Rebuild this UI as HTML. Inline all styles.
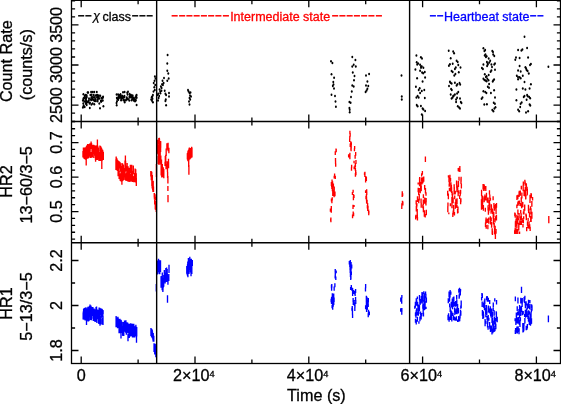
<!DOCTYPE html>
<html><head><meta charset="utf-8"><style>
html,body{margin:0;padding:0;background:#fff;}
svg{display:block;}
text{font-family:"Liberation Sans",Arial,sans-serif;}
</style></head><body>
<svg width="561" height="404" viewBox="0 0 561 404">
<rect width="561" height="404" fill="#fff"/>
<path d="M82.97 151.09V157.50M83.41 147.59V155.42M83.53 147.76V155.65M83.80 151.26V157.81M84.01 149.26V158.72M84.26 147.54V152.96M84.75 154.82V159.33M84.88 150.95V159.28M85.06 147.50V154.50M85.50 147.17V156.37M85.65 152.49V159.67M86.16 149.67V157.92M86.48 145.89V153.36M86.44 151.43V159.13M87.11 145.03V151.86M87.20 151.79V158.76M87.63 144.18V153.57M87.63 144.06V148.02M88.11 149.86V158.50M88.17 144.28V150.53M88.40 144.38V154.12M88.94 148.35V157.88M89.35 144.29V154.53M89.25 144.06V149.74M89.78 143.83V151.56M90.07 150.15V156.75M90.14 143.37V150.79M90.70 153.21V158.12M91.01 153.60V158.06M91.01 152.11V157.99M91.26 143.09V149.04M91.71 143.45V147.93M92.03 145.12V156.84M92.08 149.73V157.59M92.33 149.77V157.51M92.97 144.97V153.10M92.96 145.35V152.62M93.23 147.68V154.11M93.66 144.84V151.21M93.78 153.54V157.92M94.27 148.81V155.63M94.65 145.20V153.37M94.77 145.40V155.45M94.92 145.60V151.17M95.38 145.80V153.91M95.47 149.86V160.00M96.00 146.92V156.44M96.25 146.25V157.98M96.34 145.53V150.81M96.84 151.67V160.00M96.97 145.22V154.25M97.35 149.56V160.00M97.68 149.18V158.53M97.79 145.73V153.31M98.28 152.03V159.78M98.38 147.42V157.10M98.67 150.67V157.31M98.96 156.94V161.00M99.07 154.38V161.00M99.64 152.48V161.00M99.65 151.73V158.99M99.92 145.57V151.27M100.52 145.89V155.68M100.56 153.17V161.00M100.96 146.75V152.83M101.01 151.18V161.00M101.46 147.63V151.86M101.62 148.23V156.53M102.10 152.09V160.91M102.46 149.51V158.65M102.67 150.37V157.24M102.84 150.77V155.90M103.34 151.97V160.00M86.20 156.00V165.40M95.60 155.00V161.80M101.80 158.00V169.00M97.40 139.60V147.00M91.10 141.50V146.00M115.95 159.21V170.00M116.16 156.92V161.60M116.49 161.24V169.66M116.74 157.96V166.86M116.97 161.17V167.32M117.28 159.62V171.02M117.72 163.01V169.09M117.92 160.16V168.15M118.11 167.77V176.22M118.68 160.90V172.49M118.91 165.84V171.91M119.14 171.09V179.12M119.33 161.45V168.43M119.51 161.74V167.73M119.95 162.02V168.35M120.16 173.78V180.80M120.50 163.23V171.70M120.59 173.37V181.31M121.13 169.26V178.19M121.23 166.08V172.61M121.54 175.85V181.84M121.96 167.56V178.34M122.10 162.89V169.86M122.42 174.82V181.17M122.75 165.15V175.54M122.90 163.70V173.81M123.41 175.61V180.50M123.37 165.01V171.59M123.82 170.56V180.05M124.19 167.89V179.70M124.43 169.60V176.46M124.49 170.39V177.56M125.02 160.44V170.42M125.17 161.47V172.70M125.64 173.70V180.54M125.60 160.67V170.89M125.97 173.06V180.73M126.46 174.53V180.82M126.83 165.74V175.98M126.93 176.66V181.01M127.13 162.89V169.54M127.33 172.68V179.49M127.73 177.03V181.45M128.10 166.15V174.14M128.29 167.94V176.25M128.66 170.93V177.63M129.07 178.43V181.98M129.10 174.37V181.93M129.47 173.35V181.87M129.63 167.84V178.35M130.15 174.05V181.76M130.34 164.70V170.55M130.64 164.68V172.88M130.88 174.46V180.84M131.21 166.18V178.15M131.47 176.60V181.53M131.71 164.69V170.80M132.00 174.38V181.67M132.37 170.86V178.80M132.40 172.05V181.38M132.77 176.58V181.88M133.26 165.39V174.20M133.35 165.59V174.00M133.82 175.97V182.09M133.81 176.90V182.16M134.37 172.93V182.23M134.57 173.63V182.30M134.73 175.42V182.37M135.22 171.64V180.12M135.12 168.53V178.19M135.40 169.35V177.00M135.72 169.23V176.45M136.05 173.29V182.86M136.24 173.23V182.98M121.90 176.00V184.70M125.40 155.40V163.00M136.30 178.00V186.10M116.20 156.40V164.00M150.81 171.00V176.61M151.26 171.28V177.03M151.28 171.56V180.26M151.76 171.83V178.28M151.88 178.20V186.04M152.17 182.97V188.62M152.30 175.00V180.62M152.65 184.24V190.23M152.97 182.61V191.88M153.20 180.87V188.88M153.50 186.41V192.00M154.25 193.00V197.58M154.44 193.36V199.57M154.66 199.77V204.57M155.08 194.25V197.50M155.27 202.51V209.50M155.33 196.75V200.39M155.58 201.04V208.86M155.83 203.49V209.90M156.22 205.00V212.04M157.15 147.35V153.76M157.51 139.63V145.65M157.71 142.54V153.73M158.11 147.91V154.46M158.49 144.67V156.16M158.79 137.96V144.00M159.15 143.57V154.79M159.37 137.87V147.51M159.48 139.08V150.26M159.96 141.97V149.59M160.20 146.65V154.97M160.60 141.08V152.11M160.68 141.43V147.75M158.13 155.98V164.00M158.67 151.07V156.08M159.00 156.80V165.02M159.01 154.82V160.19M159.49 152.00V161.18M159.93 152.75V160.00M160.27 158.20V163.81M160.32 155.18V162.40M160.82 155.60V164.78M161.17 159.86V168.49M161.14 167.71V175.50M161.50 159.38V168.63M161.75 171.17V177.53M162.32 168.30V176.79M162.33 164.06V170.37M162.61 168.32V177.26M163.02 167.52V174.13M163.27 167.18V173.45M163.80 168.90V178.14M165.03 161.80V166.00M165.31 155.96V164.90M165.74 154.77V161.57M166.06 164.24V169.37M166.18 148.45V155.88M166.79 161.34V167.30M166.90 143.36V149.85M167.50 161.32V168.52M167.47 164.99V172.00M168.09 142.80V151.33M168.49 158.82V168.16M168.57 161.74V168.22M168.89 147.79V153.31M167.60 172.00V178.00M167.90 176.00V183.40M167.90 186.00V191.00M168.00 195.00V202.30M156.40 164.00V177.00M187.36 153.23V159.33M187.54 153.02V159.81M187.89 151.20V161.15M188.25 150.60V161.07M188.47 150.00V161.00M188.86 152.47V158.80M188.95 148.54V160.22M189.37 147.50V156.12M189.56 148.55V159.44M189.98 151.44V159.31M190.30 148.10V155.32M190.61 148.84V158.50M190.94 150.50V157.07M191.34 151.33V157.74M191.59 146.87V157.63M191.70 147.06V157.62M191.97 147.63V157.25M188.70 160.00V167.00M188.90 165.00V174.70M336.03 148.40V152.15M335.28 151.35V155.10M336.21 148.96V152.31M335.50 157.90V161.27M335.56 160.47V164.23M335.70 163.43V166.80M334.60 173.50V176.65M335.29 175.85V179.00M334.21 175.65V178.40M332.05 179.60V183.75M331.68 182.95V187.10M332.58 181.25V185.00M333.39 183.60V187.20M334.24 186.40V190.00M333.23 184.30V187.50M334.21 188.00V191.47M334.08 190.67V194.53M334.09 193.73V197.20M334.96 191.55V196.15M332.76 186.00V189.90M332.78 189.10V193.00M332.37 187.77V191.27M332.23 197.20V200.60M331.89 199.80V203.20M331.44 198.62V201.62M331.30 206.10V209.80M331.28 209.00V212.70M330.40 208.52V211.82M330.89 217.40V222.20M330.72 218.71V221.11M349.91 130.70V133.92M350.14 133.12V136.75M349.79 135.95V139.58M349.66 138.78V142.00M350.79 141.30V144.55M350.24 143.75V147.00M351.32 142.25V145.10M351.21 145.00V148.55M351.08 147.75V151.30M349.90 152.70V156.40M349.87 155.60V159.30M348.63 154.18V157.48M354.64 146.00V149.05M354.45 148.25V151.30M355.67 152.00V155.75M355.13 154.95V158.70M354.06 160.70V163.30M351.63 164.70V168.10M351.49 167.30V170.70M354.92 165.30V168.55M355.40 167.75V171.00M354.17 166.44V169.29M355.71 170.00V173.75M355.42 172.95V176.70M355.93 171.95V175.30M353.13 189.80V192.80M352.42 192.00V195.00M353.51 194.00V197.55M353.41 196.75V200.30M353.99 194.91V198.06M353.02 204.70V209.00M354.04 204.95V207.10M353.21 211.50V215.30M352.55 214.50V218.30M353.58 212.84V216.24M350.51 143.00V146.90M350.94 146.10V150.00M355.96 160.00V163.90M355.38 163.10V167.00M332.98 190.00V193.40M332.77 192.60V196.00M331.39 182.00V185.90M331.86 185.10V189.00M366.38 177.00V181.00M367.38 205.00V208.40M367.73 207.60V211.00M368.01 205.80V208.80M364.92 171.80V174.80M364.86 174.00V177.00M364.53 172.44V175.04M365.67 176.00V179.60M365.61 178.80V182.40M366.06 176.41V179.61M366.67 189.20V192.50M366.76 191.70V195.00M365.61 190.18V193.08M366.48 194.00V197.90M366.53 197.10V201.00M365.98 195.70V199.20M367.08 199.70V203.80M367.62 203.00V207.10M366.61 199.90V203.60M368.59 209.60V212.80M368.73 212.00V215.20M368.87 210.90V213.70M402.27 191.20V194.55M402.18 193.75V197.10M402.65 193.34V196.29M402.45 200.80V203.93M401.84 203.13V206.67M401.79 205.87V209.00M402.86 201.43V205.53M425.40 156.50V162.00M415.68 216.10V219.45M416.32 205.69V211.57M415.88 214.85V217.99M416.17 200.19V204.46M416.89 203.18V206.53M416.59 204.00V208.72M417.31 214.62V218.48M417.24 209.10V214.54M417.30 215.07V218.36M417.47 196.24V201.93M417.45 217.08V220.55M418.21 188.70V192.33M418.23 187.80V192.35M418.15 182.40V184.52M418.84 187.97V192.22M418.73 198.80V203.28M418.68 191.35V195.07M419.26 194.05V200.38M419.55 182.35V186.35M419.60 177.90V182.98M419.69 177.00V179.76M419.79 178.13V182.66M420.24 187.88V193.21M420.66 186.04V191.43M420.87 181.73V186.52M420.79 184.59V189.13M421.20 202.74V207.64M421.05 198.53V202.93M421.24 185.62V191.01M421.62 177.51V181.35M421.64 173.18V176.42M421.88 180.42V184.43M422.38 177.29V183.45M422.39 171.10V174.66M422.31 178.53V183.13M422.82 204.52V208.20M422.88 178.80V183.30M423.39 194.34V198.19M423.39 206.29V212.22M423.30 199.50V205.57M423.70 178.49V181.75M423.74 176.47V181.62M424.32 211.26V216.76M424.55 210.31V216.40M424.57 199.69V203.67M424.77 197.49V201.84M424.68 185.02V189.78M425.46 187.90V193.52M425.21 214.05V217.43M425.94 200.94V205.45M425.99 192.35V195.75M426.35 209.84V215.21M426.15 198.12V202.26M447.95 202.51V206.28M447.69 190.79V195.74M447.83 206.37V212.15M448.46 175.17V177.50M448.37 193.38V199.29M448.82 212.54V214.22M449.14 178.42V182.45M449.22 183.61V186.74M449.00 176.63V182.06M449.51 181.67V185.74M449.43 187.79V191.22M449.93 174.70V177.53M449.97 175.30V179.31M450.36 203.29V206.36M450.55 178.11V181.72M450.92 182.31V186.90M451.18 185.92V190.50M450.80 186.11V191.77M451.56 187.27V192.91M451.38 184.72V189.11M451.94 199.37V203.49M451.95 202.50V208.36M451.90 196.65V201.54M452.11 191.35V195.52M452.82 212.86V217.00M452.54 193.59V198.44M453.22 210.59V214.60M453.11 197.59V203.26M453.57 204.88V210.38M453.57 208.24V214.46M453.73 208.05V213.11M454.14 190.09V194.61M454.26 186.99V193.31M454.15 184.14V189.47M454.45 212.12V215.50M454.73 195.47V199.28M455.04 191.04V194.62M455.34 205.66V208.82M455.27 190.66V193.82M455.37 201.91V207.14M455.99 200.78V203.94M456.12 203.13V207.49M455.81 199.26V203.33M456.56 180.51V184.95M456.74 181.13V186.95M456.78 184.46V188.33M456.92 187.67V192.33M456.95 204.58V208.00M457.02 198.29V204.01M457.58 208.88V213.50M457.68 185.60V190.60M458.01 210.29V213.10M457.98 206.54V210.05M458.17 190.84V196.17M458.26 168.11V171.32M458.45 181.06V186.94M459.04 167.68V171.80M458.87 190.35V193.39M459.00 176.65V180.86M459.66 195.21V199.11M459.93 169.03V172.09M459.85 166.00V169.43M460.27 192.44V195.81M460.63 198.64V204.32M460.61 189.71V193.73M460.88 198.37V202.15M461.10 176.77V181.78M460.98 178.14V184.01M461.38 183.56V188.48M481.48 203.90V209.73M481.43 199.14V205.14M481.57 189.80V196.13M482.03 196.09V202.00M482.22 200.66V206.40M482.61 204.27V209.07M482.46 195.46V198.82M482.66 197.53V203.79M483.09 183.99V189.59M483.40 205.41V210.72M483.60 184.11V188.06M483.29 205.02V209.69M483.97 184.65V189.01M483.75 186.30V190.88M484.20 196.29V202.16M484.26 184.47V189.28M484.17 186.70V190.82M484.90 194.50V200.39M485.17 186.29V189.35M485.34 207.85V211.68M485.50 222.40V226.89M485.80 185.96V190.93M485.83 219.41V224.17M485.99 195.88V200.50M486.15 225.38V228.55M486.08 217.49V222.28M486.24 224.89V228.75M486.47 192.85V197.53M487.20 219.14V223.00M487.24 199.35V202.47M487.47 197.42V201.91M487.80 218.46V222.45M487.87 224.77V229.35M488.07 197.53V203.10M488.41 209.30V214.70M488.07 205.16V210.61M488.66 207.87V212.67M489.04 207.13V210.94M489.14 202.82V206.22M488.77 217.46V223.69M489.45 190.30V194.42M489.50 200.11V204.83M489.78 203.69V206.99M489.71 203.35V209.70M489.84 194.49V199.72M490.54 221.09V224.39M490.35 216.31V219.71M490.39 197.66V200.85M490.72 218.97V224.61M491.19 217.40V220.95M491.07 208.63V213.81M491.38 204.36V208.22M491.48 206.18V212.27M491.61 222.08V227.74M492.18 228.17V234.20M492.50 232.17V234.60M492.47 230.76V235.00M492.70 208.55V213.92M493.23 213.23V218.67M493.11 196.20V200.13M493.46 218.80V224.60M493.72 211.65V217.02M493.52 217.21V222.15M493.94 203.01V208.23M493.78 213.05V216.99M494.20 222.89V227.86M494.48 204.92V209.22M494.50 205.83V210.64M495.00 218.16V222.62M495.15 225.77V229.54M495.03 231.08V234.80M495.54 216.18V220.35M495.57 203.98V208.72M496.03 228.92V233.65M496.35 214.84V219.53M496.07 207.68V214.04M496.45 214.91V220.53M496.50 203.00V207.65M514.68 230.62V233.68M514.80 212.40V216.21M515.23 227.68V232.36M515.18 228.24V233.22M515.26 213.14V217.64M515.41 222.18V227.43M515.49 220.84V225.11M516.29 230.33V234.00M516.53 228.71V231.87M516.06 218.57V224.60M516.88 204.51V208.18M516.86 220.54V223.73M516.94 195.25V200.06M516.86 214.68V220.14M517.37 215.68V219.01M517.78 202.27V206.11M517.72 218.22V224.16M517.87 194.81V199.35M517.89 209.48V214.56M518.25 200.75V205.13M518.87 222.67V227.33M518.87 216.08V220.13M519.09 191.67V197.03M519.40 200.59V204.08M519.09 213.06V217.99M519.28 190.67V193.29M519.81 220.57V224.39M520.01 202.86V205.96M520.34 190.59V195.66M520.66 216.17V220.01M520.63 202.76V206.33M520.73 209.90V213.43M521.27 197.13V202.37M521.11 213.28V219.64M521.36 215.89V220.23M521.30 185.73V189.55M521.67 204.16V208.34M521.86 192.39V198.61M522.08 201.72V206.18M522.13 217.97V222.75M522.78 202.10V207.26M522.97 223.95V227.54M523.16 185.26V191.29M523.33 181.49V185.49M523.32 219.41V223.37M523.44 211.47V214.56M523.67 216.33V219.35M524.17 189.81V194.39M523.96 209.06V214.49M524.09 190.26V195.94M524.87 179.86V183.98M525.15 181.45V185.85M524.70 204.42V210.67M525.33 192.36V196.89M525.66 186.49V191.09M525.32 186.84V192.88M525.83 195.23V199.00M525.69 194.80V199.40M525.94 213.46V216.47M526.37 183.32V187.00M526.32 214.61V220.19M527.06 186.87V191.26M526.68 226.96V231.15M527.09 190.41V195.50M527.30 188.70V194.73M527.50 221.27V225.86M527.99 225.15V228.35M528.13 217.92V221.12M528.46 205.48V211.06M528.46 204.76V209.96M528.63 209.52V212.97M528.96 224.55V228.72M528.92 208.52V213.25M529.06 221.32V226.83M529.54 212.15V217.40M529.70 224.18V227.41M530.04 194.65V199.92M530.15 226.65V231.00M529.99 199.80V203.09M530.50 206.16V210.02M530.72 215.78V221.92M531.05 192.96V197.05M531.10 217.47V221.91M530.99 208.30V214.38M531.18 193.68V198.23M531.37 193.92V197.33M531.89 214.34V218.68M531.85 200.90V206.81M531.89 211.69V217.76M532.58 197.02V200.48M514.90 229.78V234.00M516.04 220.00V225.79M516.88 222.60V228.61M517.72 228.95V234.00M518.76 223.48V230.47M519.57 231.47V234.00M520.22 220.34V224.98M521.31 220.69V224.96M548.80 216.00V223.20M494.60 228.00V234.00M495.40 232.00V239.00" stroke="#ff0000" stroke-width="1.35" fill="none"/>
<path d="M83.16 312.90V319.50M83.26 311.40V319.59M83.59 308.63V313.53M83.86 308.44V315.55M84.09 315.17V319.87M84.48 308.07V317.93M84.85 307.88V315.13M85.05 307.69V316.04M85.14 314.61V320.49M85.53 309.91V320.15M85.94 307.13V313.40M85.88 308.98V316.89M86.32 309.90V320.13M86.52 308.30V315.28M87.01 314.64V321.61M87.34 308.27V316.12M87.56 309.00V319.99M87.88 306.83V315.44M87.98 306.64V313.27M88.52 310.43V321.45M88.40 314.86V321.12M89.02 315.40V321.08M89.29 306.50V316.26M89.49 306.11V314.55M89.87 307.27V317.20M90.11 305.33V314.92M90.21 310.88V317.29M90.42 310.57V320.02M90.79 305.45V311.06M91.02 305.83V313.87M91.33 311.90V320.30M91.68 312.32V318.67M91.95 306.95V314.39M92.39 307.00V315.63M92.59 307.59V316.03M92.77 307.00V314.21M92.90 307.00V312.54M93.30 313.91V320.95M93.58 312.35V318.67M93.97 310.59V320.01M94.09 308.54V320.33M94.59 311.96V318.41M94.61 309.28V321.08M95.01 317.17V322.03M95.17 309.62V317.00M95.71 314.19V321.82M96.02 306.91V314.39M96.03 312.79V319.17M96.53 306.54V314.49M96.85 312.74V321.10M96.86 314.38V323.00M97.09 310.70V317.73M97.61 309.38V319.25M97.87 310.80V317.89M98.03 310.07V316.07M98.59 318.03V323.60M98.62 316.72V323.79M99.14 307.46V317.07M99.28 312.22V324.08M99.69 307.67V313.76M99.97 315.94V324.27M100.27 318.10V324.36M100.48 317.63V324.45M100.52 308.36V315.67M100.79 318.51V324.50M101.14 308.47V318.08M101.36 309.57V316.39M101.84 308.84V313.72M102.16 309.04V317.45M102.23 317.90V324.39M102.55 318.65V324.29M102.83 309.94V317.15M103.09 310.24V313.90M86.50 318.00V325.00M100.00 318.00V325.70M103.00 316.00V325.00M90.00 304.50V310.00M116.10 316.96V327.16M116.13 316.06V323.95M116.39 317.17V322.99M116.65 318.28V326.30M116.92 319.10V327.09M117.53 317.94V328.37M117.81 317.59V324.08M117.89 316.74V326.83M118.16 317.66V327.33M118.54 318.94V328.12M119.08 322.66V333.15M119.14 321.58V329.93M119.73 319.15V326.60M119.94 318.86V328.82M120.20 323.45V333.13M120.22 321.93V330.03M120.90 319.72V330.45M120.76 324.42V333.31M121.24 320.34V328.84M121.47 323.31V328.81M121.73 325.40V332.95M122.04 321.83V326.89M122.66 329.73V335.79M122.72 327.02V334.85M123.18 326.33V335.88M123.45 322.04V327.48M123.48 325.06V335.86M123.78 325.42V335.91M124.50 323.66V331.70M124.51 320.60V331.47M125.14 321.68V330.48M125.08 322.73V331.85M125.63 324.11V332.80M125.88 320.27V330.85M125.87 322.27V330.96M126.35 326.49V334.70M126.85 325.88V333.33M127.06 324.99V333.55M127.05 322.31V330.50M127.46 323.11V329.98M127.87 322.63V331.78M128.04 323.87V332.80M128.59 326.86V333.07M128.90 324.01V329.09M128.90 327.73V334.30M129.28 329.63V337.97M129.52 329.03V336.42M129.98 327.16V335.23M130.27 323.27V331.12M130.63 326.73V336.51M130.89 326.36V331.71M131.30 324.86V333.01M131.60 323.58V332.99M131.86 324.49V334.65M131.87 325.80V336.16M132.51 327.49V337.61M132.91 323.75V331.66M132.85 326.44V336.40M133.30 326.52V337.46M133.77 323.68V332.77M133.98 328.34V336.26M134.04 325.68V336.31M134.45 328.83V337.56M134.59 327.83V335.85M135.20 326.25V335.72M135.58 328.39V336.20M135.86 324.69V333.92M136.18 327.60V336.80M136.25 326.73V337.40M136.72 326.96V336.55M121.00 331.00V338.60M128.00 334.00V341.30M136.50 335.00V342.70M157.43 260.39V269.28M157.50 266.60V274.50M157.86 261.03V272.05M158.24 261.33V272.06M158.51 258.85V270.56M158.76 259.68V267.89M159.12 263.95V273.71M159.31 260.22V271.66M159.77 264.33V274.16M160.09 261.59V267.92M160.44 260.18V266.61M160.51 260.39V272.07M161.07 276.28V287.76M161.40 276.02V282.26M161.68 280.08V287.74M162.18 281.50V290.30M162.29 272.49V282.12M162.85 282.68V291.92M162.95 280.10V290.40M163.34 278.03V287.58M163.73 275.04V286.67M164.33 270.11V279.88M164.83 272.58V281.88M165.12 276.56V283.57M165.61 273.57V280.03M165.82 268.08V275.36M166.40 270.99V282.09M166.62 267.38V279.29M167.18 269.06V280.03M167.37 273.75V281.67M167.94 275.49V284.68M169.00 264.80V273.00M168.80 274.00V281.00M167.50 295.30V302.70M156.30 284.00V291.50M150.95 328.00V336.00M151.33 329.40V335.16M151.54 328.86V337.34M151.80 329.27V337.52M152.25 329.69V337.48M152.49 331.40V338.45M152.86 334.41V339.75M153.11 335.10V341.33M153.25 332.95V341.65M153.81 335.75V341.86M154.05 343.19V351.94M154.41 345.22V350.93M154.73 346.41V354.45M155.24 343.84V352.49M155.36 346.20V353.55M155.82 345.42V350.92M155.86 351.92V357.18M156.25 347.91V357.26M186.78 266.02V273.71M187.17 267.22V274.82M187.53 264.31V275.88M187.78 261.46V273.11M187.91 270.99V277.14M188.40 258.09V268.06M188.53 259.93V270.65M189.00 265.27V273.89M189.05 260.13V272.06M189.48 260.19V269.90M189.80 256.65V268.04M190.07 258.81V267.14M190.50 265.95V272.55M190.76 260.57V272.41M191.03 264.71V276.24M191.30 258.69V270.02M191.71 262.19V270.26M191.82 265.74V274.11M192.31 260.05V266.06M335.24 269.10V272.20M335.30 271.40V274.50M336.19 270.56V273.26M335.29 274.00V277.35M335.80 276.55V279.90M335.16 275.60V278.55M331.78 284.00V287.75M331.61 286.95V290.70M331.47 284.84V288.19M334.88 283.20V287.35M334.15 286.55V290.70M332.33 293.20V297.00M332.16 296.20V300.00M332.58 294.00V298.40M332.81 297.60V302.00M333.60 295.20V299.20M333.70 293.50V296.65M333.67 295.85V299.00M332.54 300.00V303.40M332.64 302.60V306.00M333.17 302.15V305.15M333.20 303.00V306.80M332.69 306.00V309.80M332.10 304.86V308.26M331.59 297.00V300.90M331.52 300.10V304.00M331.16 298.65V302.15M350.29 260.00V263.90M349.81 263.10V267.00M349.34 260.98V264.48M350.09 266.00V269.90M350.22 269.10V273.00M350.75 266.45V269.95M350.46 273.00V276.90M350.74 276.10V280.00M350.91 275.55V279.05M351.30 284.90V288.20M351.85 287.40V290.70M350.62 287.09V289.99M352.60 288.00V292.40M352.62 291.60V296.00M353.65 290.11V294.11M353.13 298.00V301.90M353.27 301.10V305.00M352.25 306.00V309.40M352.46 308.60V312.00M351.95 307.75V310.75M352.48 311.00V314.95M352.58 314.15V318.10M355.60 289.00V292.90M355.13 292.10V296.00M354.74 291.12V294.62M355.56 297.00V300.90M355.76 300.10V304.00M354.92 303.00V307.40M354.82 306.60V311.00M354.15 300.00V303.40M354.42 302.60V306.00M351.06 262.00V266.40M351.04 265.60V270.00M351.71 264.38V268.38M350.95 270.00V273.90M350.90 273.10V277.00M351.34 271.62V275.12M333.70 296.00V299.40M333.67 298.60V302.40M333.76 301.60V305.00M334.08 297.60V302.10M366.50 304.00V308.40M366.59 307.60V312.00M365.62 305.21V309.21M365.64 284.10V288.20M365.48 287.40V291.50M366.35 295.70V299.25M366.36 298.45V302.00M366.88 296.70V299.85M366.91 297.00V300.90M367.03 300.10V304.00M368.32 298.00V302.40M368.04 301.60V306.00M367.68 300.53V304.53M367.42 303.00V306.80M367.33 306.00V309.80M368.23 303.54V306.94M366.40 302.00V305.40M366.88 304.60V308.00M368.49 309.80V313.95M368.23 313.15V317.30M369.34 311.56V315.31M401.86 295.00V298.33M401.63 297.53V301.27M401.70 300.47V303.80M400.77 297.43V301.83M401.86 307.90V311.70M401.76 310.90V314.70M400.66 308.35V311.75M414.78 305.65V308.70M415.50 312.57V316.33M415.40 301.85V307.82M415.48 318.73V322.71M415.93 311.66V317.85M416.24 319.67V324.59M416.26 309.92V315.72M416.26 298.32V302.70M416.66 299.87V305.66M416.57 308.28V311.42M417.39 316.78V321.72M417.36 296.55V299.34M417.46 311.97V315.51M417.99 303.98V309.28M417.65 301.81V306.15M418.33 312.07V315.72M418.00 306.43V312.11M418.30 308.10V313.32M418.80 310.89V314.03M418.58 307.91V313.11M418.91 321.36V323.85M419.44 306.09V310.87M419.27 304.99V311.02M419.47 295.03V300.41M419.93 316.59V321.25M419.91 300.17V305.36M420.06 299.17V305.01M420.57 311.50V315.59M420.65 315.69V319.21M421.15 314.31V319.55M420.94 299.06V303.85M421.58 297.83V302.63M421.33 296.07V301.75M421.63 313.05V316.23M421.99 292.26V296.68M422.12 291.95V294.35M422.52 292.63V296.58M422.60 295.13V300.80M422.82 305.03V308.64M423.11 303.97V308.14M422.99 300.08V306.24M423.17 308.36V314.19M423.61 303.98V309.63M423.47 312.57V316.60M423.79 291.28V294.31M424.38 303.74V310.14M424.06 295.43V301.74M424.27 293.18V297.52M424.71 297.71V303.64M425.04 305.11V309.50M424.82 296.09V300.45M425.08 301.31V305.33M425.56 291.45V295.57M426.00 306.78V308.91M425.87 293.86V298.15M426.39 297.54V302.86M448.06 314.85V320.25M448.28 298.37V303.24M448.59 313.37V318.88M449.10 316.65V321.74M449.07 291.49V297.59M449.57 296.44V301.80M449.85 293.40V297.78M450.11 290.00V292.04M449.66 303.52V307.24M450.00 292.00V297.36M450.20 307.26V311.97M450.44 315.51V319.97M450.84 291.60V294.81M450.78 309.82V315.79M451.00 310.74V317.11M451.70 311.34V314.58M451.28 302.00V307.41M451.63 313.35V318.38M451.80 316.65V321.58M452.02 301.62V306.81M452.50 303.98V309.25M452.29 298.50V303.76M452.93 312.72V316.04M453.09 301.54V306.94M453.15 297.10V301.82M453.14 300.20V305.96M453.85 296.40V301.51M453.62 315.46V320.30M454.34 301.74V305.07M454.43 302.68V306.55M454.26 316.87V320.20M454.59 307.39V312.27M454.85 311.74V315.12M454.78 317.23V320.24M455.03 308.62V313.30M455.09 317.38V320.70M455.58 302.47V306.65M455.70 300.94V306.69M456.33 316.15V320.69M456.50 308.81V311.99M456.28 310.58V314.07M456.80 299.94V306.12M456.99 307.46V312.11M456.69 294.99V299.81M457.01 310.87V314.32M457.39 305.86V310.72M457.37 308.21V311.77M457.58 304.06V310.37M457.69 319.50V322.00M458.42 307.94V313.59M458.30 319.71V321.80M458.75 318.06V321.70M458.58 316.02V321.45M458.82 288.75V292.87M459.15 294.65V298.75M459.37 293.19V297.48M459.70 316.63V321.20M459.58 287.75V292.55M460.04 314.62V318.62M460.50 309.68V315.46M460.30 290.65V295.39M460.80 305.61V308.64M460.53 288.93V291.52M460.82 311.09V315.65M461.19 300.56V303.79M461.19 302.68V307.95M481.63 296.70V300.54M481.91 293.00V296.31M482.34 293.44V298.07M482.42 309.92V315.79M482.17 301.38V306.89M482.84 310.96V316.80M482.82 313.92V319.02M483.35 315.05V318.51M483.36 311.57V316.21M483.26 315.33V318.40M483.64 314.28V318.26M483.59 302.54V307.87M484.06 303.38V307.15M484.50 306.02V310.26M484.29 300.57V305.72M484.77 304.82V309.41M484.81 298.57V304.22M485.08 319.05V323.08M485.10 322.23V326.17M485.60 308.00V314.02M485.82 311.31V317.27M485.92 320.58V323.72M486.41 304.99V309.42M486.51 307.22V311.66M486.58 296.66V300.33M486.79 311.56V314.92M486.84 295.90V298.14M487.35 296.13V301.80M487.12 315.78V319.99M487.54 322.74V327.48M487.75 318.53V323.48M488.07 325.94V329.74M488.39 305.38V310.47M488.35 297.73V301.69M488.22 315.12V319.90M488.36 306.28V312.50M488.79 308.24V311.30M488.85 317.79V320.81M489.43 308.51V313.16M489.60 322.11V327.54M489.69 300.00V304.02M489.90 325.13V329.21M490.27 306.34V312.49M490.48 327.56V331.92M490.41 308.44V314.62M490.70 325.49V331.02M490.66 311.58V316.06M491.25 311.19V316.05M491.05 311.26V317.56M491.26 327.68V331.37M492.02 316.99V323.10M491.58 308.58V311.73M491.98 329.59V334.40M491.98 325.60V329.89M492.56 317.85V323.32M492.47 311.62V317.00M492.64 321.12V325.46M492.86 328.42V333.30M493.21 307.80V311.09M493.28 302.50V307.46M493.61 323.88V329.66M494.16 310.37V315.79M494.11 326.23V331.96M494.03 320.62V324.56M494.37 316.45V322.57M494.41 318.99V323.96M494.77 298.30V301.56M495.04 318.10V322.25M494.98 327.77V331.37M495.45 322.18V327.07M495.83 323.78V327.08M495.83 324.82V329.16M496.20 311.16V314.69M496.40 312.28V316.98M496.32 316.12V321.40M496.53 299.92V304.43M497.20 316.79V322.35M515.32 330.12V334.00M515.36 296.50V301.33M515.13 318.19V321.29M515.58 327.88V334.11M515.94 318.40V322.07M515.87 321.59V325.06M516.34 312.42V317.22M516.46 314.74V320.55M516.85 317.63V323.47M516.90 326.49V332.86M517.22 306.28V311.09M517.33 329.08V333.51M517.66 317.54V323.43M517.94 297.46V303.57M517.68 311.45V315.42M518.27 316.89V322.70M518.12 320.55V323.77M518.15 326.20V332.15M518.81 317.62V323.35M518.96 308.88V315.27M519.01 330.05V334.33M519.39 320.02V324.95M519.13 328.18V331.26M519.56 314.73V317.91M519.60 305.07V310.99M519.95 321.04V326.92M520.35 312.23V315.71M520.35 306.54V312.79M520.39 317.28V321.32M520.67 312.41V315.95M520.80 297.64V303.54M521.35 306.08V312.22M521.27 300.04V303.32M521.48 307.67V310.92M522.13 301.64V307.12M521.80 299.08V302.88M522.25 297.98V303.43M522.32 310.71V315.15M522.84 322.91V328.47M522.97 329.58V332.47M523.01 323.49V329.71M523.19 310.89V314.39M523.45 327.40V331.96M523.53 323.59V327.73M523.83 325.94V330.69M523.96 322.95V325.95M524.09 296.89V301.66M524.48 297.62V302.94M524.62 313.98V316.98M524.87 295.87V299.84M524.88 318.07V323.45M525.41 303.12V308.37M525.34 309.87V314.35M525.30 301.45V305.61M525.61 313.44V317.87M526.10 301.36V305.56M526.25 325.72V330.20M526.66 311.44V317.01M526.27 310.65V315.52M526.50 308.46V312.99M526.98 327.28V329.67M527.22 305.30V308.57M527.36 324.04V328.18M527.37 303.46V309.43M527.93 313.84V318.89M528.13 310.41V314.31M528.49 303.52V308.10M528.53 315.92V321.83M528.47 316.88V321.07M528.50 299.81V304.73M528.67 310.16V315.53M529.33 305.74V309.12M529.30 320.00V325.11M529.93 317.58V320.70M529.50 311.34V314.36M529.89 300.00V303.05M529.96 303.75V309.48M530.46 320.18V325.80M530.27 313.67V319.45M530.85 317.17V322.84M531.02 318.95V324.33M531.03 312.30V317.64M531.50 318.26V323.67M531.41 308.94V312.27M531.59 304.29V308.45M531.98 305.30V310.75M521.50 286.70V293.00M548.40 315.60V322.30" stroke="#0000ff" stroke-width="1.35" fill="none"/>
<g fill="#000"><ellipse cx="91.4" cy="104.6" rx="0.95" ry="1.25"/><ellipse cx="89.0" cy="98.6" rx="0.95" ry="1.25"/><ellipse cx="90.4" cy="99.5" rx="0.95" ry="1.25"/><ellipse cx="86.1" cy="103.6" rx="0.95" ry="1.25"/><ellipse cx="85.4" cy="95.1" rx="0.95" ry="1.25"/><ellipse cx="86.4" cy="101.0" rx="0.95" ry="1.25"/><ellipse cx="94.3" cy="91.9" rx="0.95" ry="1.25"/><ellipse cx="84.7" cy="107.1" rx="0.95" ry="1.25"/><ellipse cx="103.1" cy="96.7" rx="0.95" ry="1.25"/><ellipse cx="85.9" cy="101.6" rx="0.95" ry="1.25"/><ellipse cx="97.7" cy="99.5" rx="0.95" ry="1.25"/><ellipse cx="83.3" cy="103.5" rx="0.95" ry="1.25"/><ellipse cx="89.8" cy="108.0" rx="0.95" ry="1.25"/><ellipse cx="98.2" cy="96.4" rx="0.95" ry="1.25"/><ellipse cx="82.9" cy="107.5" rx="0.95" ry="1.25"/><ellipse cx="98.8" cy="95.9" rx="0.95" ry="1.25"/><ellipse cx="86.5" cy="102.1" rx="0.95" ry="1.25"/><ellipse cx="101.1" cy="101.8" rx="0.95" ry="1.25"/><ellipse cx="94.8" cy="97.5" rx="0.95" ry="1.25"/><ellipse cx="93.6" cy="94.9" rx="0.95" ry="1.25"/><ellipse cx="97.5" cy="101.3" rx="0.95" ry="1.25"/><ellipse cx="87.6" cy="92.6" rx="0.95" ry="1.25"/><ellipse cx="100.9" cy="100.8" rx="0.95" ry="1.25"/><ellipse cx="94.3" cy="104.2" rx="0.95" ry="1.25"/><ellipse cx="86.6" cy="95.2" rx="0.95" ry="1.25"/><ellipse cx="102.6" cy="97.8" rx="0.95" ry="1.25"/><ellipse cx="83.7" cy="105.6" rx="0.95" ry="1.25"/><ellipse cx="100.0" cy="108.2" rx="0.95" ry="1.25"/><ellipse cx="85.9" cy="99.8" rx="0.95" ry="1.25"/><ellipse cx="86.0" cy="103.7" rx="0.95" ry="1.25"/><ellipse cx="89.5" cy="103.6" rx="0.95" ry="1.25"/><ellipse cx="84.4" cy="101.6" rx="0.95" ry="1.25"/><ellipse cx="103.4" cy="106.3" rx="0.95" ry="1.25"/><ellipse cx="98.8" cy="95.5" rx="0.95" ry="1.25"/><ellipse cx="90.4" cy="95.1" rx="0.95" ry="1.25"/><ellipse cx="92.8" cy="92.0" rx="0.95" ry="1.25"/><ellipse cx="84.1" cy="97.7" rx="0.95" ry="1.25"/><ellipse cx="95.4" cy="95.4" rx="0.95" ry="1.25"/><ellipse cx="91.5" cy="100.1" rx="0.95" ry="1.25"/><ellipse cx="98.7" cy="97.9" rx="0.95" ry="1.25"/><ellipse cx="97.3" cy="96.7" rx="0.95" ry="1.25"/><ellipse cx="86.2" cy="98.6" rx="0.95" ry="1.25"/><ellipse cx="102.8" cy="100.6" rx="0.95" ry="1.25"/><ellipse cx="88.8" cy="100.4" rx="0.95" ry="1.25"/><ellipse cx="93.9" cy="97.3" rx="0.95" ry="1.25"/><ellipse cx="82.9" cy="100.5" rx="0.95" ry="1.25"/><ellipse cx="93.1" cy="99.6" rx="0.95" ry="1.25"/><ellipse cx="99.3" cy="103.5" rx="0.95" ry="1.25"/><ellipse cx="84.8" cy="95.9" rx="0.95" ry="1.25"/><ellipse cx="99.2" cy="98.6" rx="0.95" ry="1.25"/><ellipse cx="102.6" cy="97.8" rx="0.95" ry="1.25"/><ellipse cx="101.0" cy="100.9" rx="0.95" ry="1.25"/><ellipse cx="83.4" cy="98.5" rx="0.95" ry="1.25"/><ellipse cx="86.5" cy="102.3" rx="0.95" ry="1.25"/><ellipse cx="96.9" cy="95.3" rx="0.95" ry="1.25"/><ellipse cx="91.4" cy="97.4" rx="0.95" ry="1.25"/><ellipse cx="97.1" cy="97.5" rx="0.95" ry="1.25"/><ellipse cx="92.3" cy="98.9" rx="0.95" ry="1.25"/><ellipse cx="86.8" cy="97.1" rx="0.95" ry="1.25"/><ellipse cx="85.6" cy="97.6" rx="0.95" ry="1.25"/><ellipse cx="101.3" cy="98.1" rx="0.95" ry="1.25"/><ellipse cx="93.9" cy="100.3" rx="0.95" ry="1.25"/><ellipse cx="97.2" cy="95.0" rx="0.95" ry="1.25"/><ellipse cx="88.2" cy="92.6" rx="0.95" ry="1.25"/><ellipse cx="91.6" cy="94.8" rx="0.95" ry="1.25"/><ellipse cx="94.7" cy="101.0" rx="0.95" ry="1.25"/><ellipse cx="95.8" cy="101.1" rx="0.95" ry="1.25"/><ellipse cx="97.5" cy="99.7" rx="0.95" ry="1.25"/><ellipse cx="83.5" cy="100.1" rx="0.95" ry="1.25"/><ellipse cx="91.1" cy="92.1" rx="0.95" ry="1.25"/><ellipse cx="92.1" cy="97.1" rx="0.95" ry="1.25"/><ellipse cx="92.7" cy="103.6" rx="0.95" ry="1.25"/><ellipse cx="88.3" cy="101.7" rx="0.95" ry="1.25"/><ellipse cx="101.9" cy="100.5" rx="0.95" ry="1.25"/><ellipse cx="96.8" cy="92.0" rx="0.95" ry="1.25"/><ellipse cx="83.4" cy="94.2" rx="0.95" ry="1.25"/><ellipse cx="95.3" cy="99.2" rx="0.95" ry="1.25"/><ellipse cx="86.6" cy="102.4" rx="0.95" ry="1.25"/><ellipse cx="90.0" cy="102.8" rx="0.95" ry="1.25"/><ellipse cx="100.3" cy="95.8" rx="0.95" ry="1.25"/><ellipse cx="84.4" cy="97.9" rx="0.95" ry="1.25"/><ellipse cx="83.6" cy="106.4" rx="0.95" ry="1.25"/><ellipse cx="86.7" cy="104.9" rx="0.95" ry="1.25"/><ellipse cx="87.6" cy="102.0" rx="0.95" ry="1.25"/><ellipse cx="91.6" cy="99.5" rx="0.95" ry="1.25"/><ellipse cx="126.8" cy="97.6" rx="0.95" ry="1.25"/><ellipse cx="132.5" cy="96.6" rx="0.95" ry="1.25"/><ellipse cx="117.0" cy="101.2" rx="0.95" ry="1.25"/><ellipse cx="118.3" cy="99.8" rx="0.95" ry="1.25"/><ellipse cx="127.9" cy="99.3" rx="0.95" ry="1.25"/><ellipse cx="123.6" cy="100.2" rx="0.95" ry="1.25"/><ellipse cx="133.8" cy="98.0" rx="0.95" ry="1.25"/><ellipse cx="118.1" cy="94.6" rx="0.95" ry="1.25"/><ellipse cx="129.7" cy="97.0" rx="0.95" ry="1.25"/><ellipse cx="124.6" cy="92.1" rx="0.95" ry="1.25"/><ellipse cx="119.3" cy="97.5" rx="0.95" ry="1.25"/><ellipse cx="127.2" cy="92.8" rx="0.95" ry="1.25"/><ellipse cx="119.6" cy="95.3" rx="0.95" ry="1.25"/><ellipse cx="124.7" cy="102.2" rx="0.95" ry="1.25"/><ellipse cx="134.1" cy="99.1" rx="0.95" ry="1.25"/><ellipse cx="123.5" cy="99.6" rx="0.95" ry="1.25"/><ellipse cx="116.6" cy="94.6" rx="0.95" ry="1.25"/><ellipse cx="125.9" cy="100.2" rx="0.95" ry="1.25"/><ellipse cx="132.7" cy="98.9" rx="0.95" ry="1.25"/><ellipse cx="118.8" cy="97.4" rx="0.95" ry="1.25"/><ellipse cx="118.5" cy="98.1" rx="0.95" ry="1.25"/><ellipse cx="135.8" cy="100.4" rx="0.95" ry="1.25"/><ellipse cx="135.6" cy="99.8" rx="0.95" ry="1.25"/><ellipse cx="122.6" cy="98.1" rx="0.95" ry="1.25"/><ellipse cx="126.5" cy="98.9" rx="0.95" ry="1.25"/><ellipse cx="117.4" cy="99.1" rx="0.95" ry="1.25"/><ellipse cx="131.6" cy="100.2" rx="0.95" ry="1.25"/><ellipse cx="119.5" cy="96.2" rx="0.95" ry="1.25"/><ellipse cx="136.7" cy="97.7" rx="0.95" ry="1.25"/><ellipse cx="136.6" cy="105.1" rx="0.95" ry="1.25"/><ellipse cx="127.6" cy="94.4" rx="0.95" ry="1.25"/><ellipse cx="135.4" cy="97.5" rx="0.95" ry="1.25"/><ellipse cx="131.3" cy="96.4" rx="0.95" ry="1.25"/><ellipse cx="133.7" cy="100.4" rx="0.95" ry="1.25"/><ellipse cx="132.4" cy="98.3" rx="0.95" ry="1.25"/><ellipse cx="132.0" cy="96.5" rx="0.95" ry="1.25"/><ellipse cx="121.7" cy="97.3" rx="0.95" ry="1.25"/><ellipse cx="121.1" cy="100.3" rx="0.95" ry="1.25"/><ellipse cx="123.8" cy="97.3" rx="0.95" ry="1.25"/><ellipse cx="130.4" cy="95.6" rx="0.95" ry="1.25"/><ellipse cx="129.6" cy="94.1" rx="0.95" ry="1.25"/><ellipse cx="134.0" cy="99.7" rx="0.95" ry="1.25"/><ellipse cx="116.8" cy="98.1" rx="0.95" ry="1.25"/><ellipse cx="135.0" cy="101.2" rx="0.95" ry="1.25"/><ellipse cx="124.4" cy="95.9" rx="0.95" ry="1.25"/><ellipse cx="130.3" cy="96.4" rx="0.95" ry="1.25"/><ellipse cx="121.3" cy="98.7" rx="0.95" ry="1.25"/><ellipse cx="122.5" cy="96.0" rx="0.95" ry="1.25"/><ellipse cx="131.2" cy="97.1" rx="0.95" ry="1.25"/><ellipse cx="136.2" cy="95.7" rx="0.95" ry="1.25"/><ellipse cx="129.3" cy="100.4" rx="0.95" ry="1.25"/><ellipse cx="132.6" cy="95.5" rx="0.95" ry="1.25"/><ellipse cx="131.0" cy="95.0" rx="0.95" ry="1.25"/><ellipse cx="116.7" cy="105.3" rx="0.95" ry="1.25"/><ellipse cx="130.5" cy="95.2" rx="0.95" ry="1.25"/><ellipse cx="120.4" cy="97.6" rx="0.95" ry="1.25"/><ellipse cx="124.4" cy="97.0" rx="0.95" ry="1.25"/><ellipse cx="120.6" cy="95.8" rx="0.95" ry="1.25"/><ellipse cx="118.1" cy="97.7" rx="0.95" ry="1.25"/><ellipse cx="132.6" cy="98.1" rx="0.95" ry="1.25"/><ellipse cx="116.5" cy="103.0" rx="0.95" ry="1.25"/><ellipse cx="127.8" cy="98.9" rx="0.95" ry="1.25"/><ellipse cx="123.0" cy="92.3" rx="0.95" ry="1.25"/><ellipse cx="118.8" cy="96.3" rx="0.95" ry="1.25"/><ellipse cx="122.1" cy="96.1" rx="0.95" ry="1.25"/><ellipse cx="120.5" cy="94.3" rx="0.95" ry="1.25"/><ellipse cx="124.5" cy="100.6" rx="0.95" ry="1.25"/><ellipse cx="129.5" cy="96.8" rx="0.95" ry="1.25"/><ellipse cx="128.0" cy="91.8" rx="0.95" ry="1.25"/><ellipse cx="136.6" cy="95.0" rx="0.95" ry="1.25"/><ellipse cx="129.8" cy="97.6" rx="0.95" ry="1.25"/><ellipse cx="136.2" cy="96.7" rx="0.95" ry="1.25"/><ellipse cx="154.9" cy="76.4" rx="0.95" ry="1.25"/><ellipse cx="155.6" cy="78.6" rx="0.95" ry="1.25"/><ellipse cx="154.6" cy="80.7" rx="0.95" ry="1.25"/><ellipse cx="153.7" cy="82.9" rx="0.95" ry="1.25"/><ellipse cx="155.2" cy="85.0" rx="0.95" ry="1.25"/><ellipse cx="154.3" cy="87.2" rx="0.95" ry="1.25"/><ellipse cx="154.8" cy="90.1" rx="0.95" ry="1.25"/><ellipse cx="153.5" cy="91.5" rx="0.95" ry="1.25"/><ellipse cx="152.9" cy="95.1" rx="0.95" ry="1.25"/><ellipse cx="151.7" cy="97.3" rx="0.95" ry="1.25"/><ellipse cx="152.5" cy="98.7" rx="0.95" ry="1.25"/><ellipse cx="152.0" cy="100.8" rx="0.95" ry="1.25"/><ellipse cx="152.9" cy="102.3" rx="0.95" ry="1.25"/><ellipse cx="151.2" cy="99.5" rx="0.95" ry="1.25"/><ellipse cx="152.3" cy="96.5" rx="0.95" ry="1.25"/><ellipse cx="157.5" cy="95.1" rx="0.95" ry="1.25"/><ellipse cx="158.6" cy="98.0" rx="0.95" ry="1.25"/><ellipse cx="158.2" cy="93.7" rx="0.95" ry="1.25"/><ellipse cx="160.2" cy="91.5" rx="0.95" ry="1.25"/><ellipse cx="159.6" cy="89.4" rx="0.95" ry="1.25"/><ellipse cx="161.6" cy="87.9" rx="0.95" ry="1.25"/><ellipse cx="160.9" cy="86.5" rx="0.95" ry="1.25"/><ellipse cx="162.9" cy="85.0" rx="0.95" ry="1.25"/><ellipse cx="163.6" cy="82.9" rx="0.95" ry="1.25"/><ellipse cx="162.5" cy="80.7" rx="0.95" ry="1.25"/><ellipse cx="164.0" cy="77.9" rx="0.95" ry="1.25"/><ellipse cx="162.1" cy="84.3" rx="0.95" ry="1.25"/><ellipse cx="161.5" cy="90.8" rx="0.95" ry="1.25"/><ellipse cx="160.4" cy="93.3" rx="0.95" ry="1.25"/><ellipse cx="158.0" cy="100.5" rx="0.95" ry="1.25"/><ellipse cx="159.2" cy="96.0" rx="0.95" ry="1.25"/><ellipse cx="167.6" cy="54.9" rx="0.95" ry="1.25"/><ellipse cx="167.3" cy="63.5" rx="0.95" ry="1.25"/><ellipse cx="167.3" cy="70.7" rx="0.95" ry="1.25"/><ellipse cx="168.3" cy="73.6" rx="0.95" ry="1.25"/><ellipse cx="168.7" cy="78.6" rx="0.95" ry="1.25"/><ellipse cx="167.3" cy="80.7" rx="0.95" ry="1.25"/><ellipse cx="164.7" cy="90.8" rx="0.95" ry="1.25"/><ellipse cx="165.4" cy="93.7" rx="0.95" ry="1.25"/><ellipse cx="166.1" cy="95.1" rx="0.95" ry="1.25"/><ellipse cx="169.0" cy="92.9" rx="0.95" ry="1.25"/><ellipse cx="169.0" cy="96.5" rx="0.95" ry="1.25"/><ellipse cx="165.8" cy="99.4" rx="0.95" ry="1.25"/><ellipse cx="166.1" cy="105.2" rx="0.95" ry="1.25"/><ellipse cx="165.4" cy="100.9" rx="0.95" ry="1.25"/><ellipse cx="188.0" cy="90.0" rx="0.95" ry="1.25"/><ellipse cx="188.6" cy="91.5" rx="0.95" ry="1.25"/><ellipse cx="189.5" cy="93.0" rx="0.95" ry="1.25"/><ellipse cx="190.5" cy="92.5" rx="0.95" ry="1.25"/><ellipse cx="190.0" cy="95.5" rx="0.95" ry="1.25"/><ellipse cx="191.0" cy="96.5" rx="0.95" ry="1.25"/><ellipse cx="189.5" cy="98.0" rx="0.95" ry="1.25"/><ellipse cx="190.2" cy="99.5" rx="0.95" ry="1.25"/><ellipse cx="189.0" cy="101.5" rx="0.95" ry="1.25"/><ellipse cx="189.5" cy="104.5" rx="0.95" ry="1.25"/><ellipse cx="331.0" cy="61.3" rx="0.95" ry="1.25"/><ellipse cx="332.4" cy="63.0" rx="0.95" ry="1.25"/><ellipse cx="331.5" cy="74.2" rx="0.95" ry="1.25"/><ellipse cx="334.1" cy="77.7" rx="0.95" ry="1.25"/><ellipse cx="333.3" cy="82.0" rx="0.95" ry="1.25"/><ellipse cx="332.8" cy="86.0" rx="0.95" ry="1.25"/><ellipse cx="334.0" cy="88.5" rx="0.95" ry="1.25"/><ellipse cx="333.5" cy="84.5" rx="0.95" ry="1.25"/><ellipse cx="331.5" cy="94.7" rx="0.95" ry="1.25"/><ellipse cx="335.0" cy="95.9" rx="0.95" ry="1.25"/><ellipse cx="335.5" cy="101.6" rx="0.95" ry="1.25"/><ellipse cx="335.9" cy="106.8" rx="0.95" ry="1.25"/><ellipse cx="352.3" cy="56.9" rx="0.95" ry="1.25"/><ellipse cx="355.4" cy="60.0" rx="0.95" ry="1.25"/><ellipse cx="352.3" cy="66.5" rx="0.95" ry="1.25"/><ellipse cx="353.7" cy="64.7" rx="0.95" ry="1.25"/><ellipse cx="355.8" cy="66.5" rx="0.95" ry="1.25"/><ellipse cx="352.8" cy="72.5" rx="0.95" ry="1.25"/><ellipse cx="354.5" cy="76.0" rx="0.95" ry="1.25"/><ellipse cx="354.0" cy="80.3" rx="0.95" ry="1.25"/><ellipse cx="352.3" cy="85.5" rx="0.95" ry="1.25"/><ellipse cx="353.7" cy="86.4" rx="0.95" ry="1.25"/><ellipse cx="351.8" cy="91.6" rx="0.95" ry="1.25"/><ellipse cx="351.0" cy="97.1" rx="0.95" ry="1.25"/><ellipse cx="349.4" cy="102.0" rx="0.95" ry="1.25"/><ellipse cx="350.6" cy="102.8" rx="0.95" ry="1.25"/><ellipse cx="349.4" cy="108.0" rx="0.95" ry="1.25"/><ellipse cx="349.7" cy="109.7" rx="0.95" ry="1.25"/><ellipse cx="349.7" cy="112.3" rx="0.95" ry="1.25"/><ellipse cx="366.0" cy="75.4" rx="0.95" ry="1.25"/><ellipse cx="369.1" cy="74.0" rx="0.95" ry="1.25"/><ellipse cx="367.4" cy="81.4" rx="0.95" ry="1.25"/><ellipse cx="366.0" cy="85.4" rx="0.95" ry="1.25"/><ellipse cx="368.3" cy="86.0" rx="0.95" ry="1.25"/><ellipse cx="367.4" cy="88.7" rx="0.95" ry="1.25"/><ellipse cx="365.6" cy="92.1" rx="0.95" ry="1.25"/><ellipse cx="366.6" cy="90.5" rx="0.95" ry="1.25"/><ellipse cx="401.5" cy="75.6" rx="0.95" ry="1.25"/><ellipse cx="401.8" cy="96.5" rx="0.95" ry="1.25"/><ellipse cx="401.8" cy="99.5" rx="0.95" ry="1.25"/><ellipse cx="416.4" cy="55.6" rx="0.95" ry="1.25"/><ellipse cx="420.9" cy="57.2" rx="0.95" ry="1.25"/><ellipse cx="416.7" cy="62.3" rx="0.95" ry="1.25"/><ellipse cx="418.1" cy="63.5" rx="0.95" ry="1.25"/><ellipse cx="420.1" cy="64.8" rx="0.95" ry="1.25"/><ellipse cx="421.8" cy="66.5" rx="0.95" ry="1.25"/><ellipse cx="423.4" cy="67.8" rx="0.95" ry="1.25"/><ellipse cx="415.4" cy="69.5" rx="0.95" ry="1.25"/><ellipse cx="420.1" cy="70.7" rx="0.95" ry="1.25"/><ellipse cx="422.1" cy="72.4" rx="0.95" ry="1.25"/><ellipse cx="424.8" cy="71.9" rx="0.95" ry="1.25"/><ellipse cx="417.1" cy="78.3" rx="0.95" ry="1.25"/><ellipse cx="425.1" cy="77.4" rx="0.95" ry="1.25"/><ellipse cx="422.6" cy="81.6" rx="0.95" ry="1.25"/><ellipse cx="415.9" cy="86.7" rx="0.95" ry="1.25"/><ellipse cx="419.7" cy="88.3" rx="0.95" ry="1.25"/><ellipse cx="418.7" cy="90.0" rx="0.95" ry="1.25"/><ellipse cx="421.8" cy="90.9" rx="0.95" ry="1.25"/><ellipse cx="424.3" cy="90.0" rx="0.95" ry="1.25"/><ellipse cx="420.1" cy="93.0" rx="0.95" ry="1.25"/><ellipse cx="417.6" cy="95.9" rx="0.95" ry="1.25"/><ellipse cx="416.4" cy="97.6" rx="0.95" ry="1.25"/><ellipse cx="424.8" cy="98.1" rx="0.95" ry="1.25"/><ellipse cx="416.7" cy="105.1" rx="0.95" ry="1.25"/><ellipse cx="420.9" cy="106.0" rx="0.95" ry="1.25"/><ellipse cx="422.6" cy="108.5" rx="0.95" ry="1.25"/><ellipse cx="425.1" cy="111.0" rx="0.95" ry="1.25"/><ellipse cx="421.8" cy="114.4" rx="0.95" ry="1.25"/><ellipse cx="448.7" cy="50.7" rx="0.95" ry="1.25"/><ellipse cx="453.2" cy="51.6" rx="0.95" ry="1.25"/><ellipse cx="454.1" cy="53.2" rx="0.95" ry="1.25"/><ellipse cx="450.7" cy="58.3" rx="0.95" ry="1.25"/><ellipse cx="456.6" cy="60.8" rx="0.95" ry="1.25"/><ellipse cx="449.9" cy="64.2" rx="0.95" ry="1.25"/><ellipse cx="452.7" cy="63.8" rx="0.95" ry="1.25"/><ellipse cx="458.3" cy="65.0" rx="0.95" ry="1.25"/><ellipse cx="455.8" cy="67.5" rx="0.95" ry="1.25"/><ellipse cx="460.5" cy="67.5" rx="0.95" ry="1.25"/><ellipse cx="451.6" cy="70.9" rx="0.95" ry="1.25"/><ellipse cx="458.8" cy="72.2" rx="0.95" ry="1.25"/><ellipse cx="455.4" cy="73.9" rx="0.95" ry="1.25"/><ellipse cx="449.9" cy="81.8" rx="0.95" ry="1.25"/><ellipse cx="451.6" cy="83.5" rx="0.95" ry="1.25"/><ellipse cx="454.9" cy="82.7" rx="0.95" ry="1.25"/><ellipse cx="457.4" cy="84.3" rx="0.95" ry="1.25"/><ellipse cx="459.5" cy="83.0" rx="0.95" ry="1.25"/><ellipse cx="449.0" cy="86.0" rx="0.95" ry="1.25"/><ellipse cx="451.1" cy="89.0" rx="0.95" ry="1.25"/><ellipse cx="458.3" cy="91.9" rx="0.95" ry="1.25"/><ellipse cx="450.7" cy="94.4" rx="0.95" ry="1.25"/><ellipse cx="453.2" cy="96.1" rx="0.95" ry="1.25"/><ellipse cx="454.9" cy="94.4" rx="0.95" ry="1.25"/><ellipse cx="457.1" cy="97.8" rx="0.95" ry="1.25"/><ellipse cx="460.0" cy="98.6" rx="0.95" ry="1.25"/><ellipse cx="451.6" cy="98.6" rx="0.95" ry="1.25"/><ellipse cx="456.1" cy="102.0" rx="0.95" ry="1.25"/><ellipse cx="460.8" cy="102.0" rx="0.95" ry="1.25"/><ellipse cx="457.8" cy="106.2" rx="0.95" ry="1.25"/><ellipse cx="459.1" cy="107.5" rx="0.95" ry="1.25"/><ellipse cx="483.4" cy="48.3" rx="0.95" ry="1.25"/><ellipse cx="485.2" cy="50.0" rx="0.95" ry="1.25"/><ellipse cx="492.3" cy="51.0" rx="0.95" ry="1.25"/><ellipse cx="493.2" cy="54.5" rx="0.95" ry="1.25"/><ellipse cx="485.5" cy="54.5" rx="0.95" ry="1.25"/><ellipse cx="486.6" cy="56.3" rx="0.95" ry="1.25"/><ellipse cx="488.7" cy="58.5" rx="0.95" ry="1.25"/><ellipse cx="490.2" cy="60.8" rx="0.95" ry="1.25"/><ellipse cx="486.9" cy="62.0" rx="0.95" ry="1.25"/><ellipse cx="483.4" cy="64.4" rx="0.95" ry="1.25"/><ellipse cx="487.8" cy="64.4" rx="0.95" ry="1.25"/><ellipse cx="491.4" cy="64.4" rx="0.95" ry="1.25"/><ellipse cx="495.0" cy="63.5" rx="0.95" ry="1.25"/><ellipse cx="481.9" cy="68.0" rx="0.95" ry="1.25"/><ellipse cx="492.0" cy="67.0" rx="0.95" ry="1.25"/><ellipse cx="495.0" cy="69.7" rx="0.95" ry="1.25"/><ellipse cx="491.4" cy="70.6" rx="0.95" ry="1.25"/><ellipse cx="484.8" cy="74.2" rx="0.95" ry="1.25"/><ellipse cx="488.7" cy="75.1" rx="0.95" ry="1.25"/><ellipse cx="486.6" cy="76.3" rx="0.95" ry="1.25"/><ellipse cx="483.4" cy="78.7" rx="0.95" ry="1.25"/><ellipse cx="487.3" cy="78.7" rx="0.95" ry="1.25"/><ellipse cx="485.5" cy="80.5" rx="0.95" ry="1.25"/><ellipse cx="494.1" cy="79.6" rx="0.95" ry="1.25"/><ellipse cx="492.7" cy="81.4" rx="0.95" ry="1.25"/><ellipse cx="489.1" cy="84.0" rx="0.95" ry="1.25"/><ellipse cx="487.8" cy="86.7" rx="0.95" ry="1.25"/><ellipse cx="483.4" cy="91.2" rx="0.95" ry="1.25"/><ellipse cx="485.2" cy="92.1" rx="0.95" ry="1.25"/><ellipse cx="494.1" cy="90.3" rx="0.95" ry="1.25"/><ellipse cx="490.9" cy="93.0" rx="0.95" ry="1.25"/><ellipse cx="482.5" cy="97.5" rx="0.95" ry="1.25"/><ellipse cx="495.0" cy="97.5" rx="0.95" ry="1.25"/><ellipse cx="484.3" cy="104.6" rx="0.95" ry="1.25"/><ellipse cx="486.9" cy="104.3" rx="0.95" ry="1.25"/><ellipse cx="493.7" cy="102.8" rx="0.95" ry="1.25"/><ellipse cx="492.3" cy="110.0" rx="0.95" ry="1.25"/><ellipse cx="495.5" cy="107.3" rx="0.95" ry="1.25"/><ellipse cx="524.5" cy="36.7" rx="0.95" ry="1.25"/><ellipse cx="518.1" cy="50.1" rx="0.95" ry="1.25"/><ellipse cx="522.4" cy="49.5" rx="0.95" ry="1.25"/><ellipse cx="527.1" cy="48.0" rx="0.95" ry="1.25"/><ellipse cx="516.0" cy="57.6" rx="0.95" ry="1.25"/><ellipse cx="519.6" cy="58.0" rx="0.95" ry="1.25"/><ellipse cx="515.3" cy="59.7" rx="0.95" ry="1.25"/><ellipse cx="528.1" cy="57.6" rx="0.95" ry="1.25"/><ellipse cx="530.9" cy="64.0" rx="0.95" ry="1.25"/><ellipse cx="519.6" cy="66.1" rx="0.95" ry="1.25"/><ellipse cx="525.4" cy="67.2" rx="0.95" ry="1.25"/><ellipse cx="518.1" cy="70.4" rx="0.95" ry="1.25"/><ellipse cx="520.7" cy="71.4" rx="0.95" ry="1.25"/><ellipse cx="526.6" cy="70.0" rx="0.95" ry="1.25"/><ellipse cx="528.8" cy="73.6" rx="0.95" ry="1.25"/><ellipse cx="516.8" cy="75.7" rx="0.95" ry="1.25"/><ellipse cx="519.6" cy="77.2" rx="0.95" ry="1.25"/><ellipse cx="522.8" cy="75.7" rx="0.95" ry="1.25"/><ellipse cx="518.1" cy="79.3" rx="0.95" ry="1.25"/><ellipse cx="524.5" cy="82.1" rx="0.95" ry="1.25"/><ellipse cx="530.9" cy="84.2" rx="0.95" ry="1.25"/><ellipse cx="516.4" cy="89.6" rx="0.95" ry="1.25"/><ellipse cx="522.8" cy="88.5" rx="0.95" ry="1.25"/><ellipse cx="529.6" cy="88.5" rx="0.95" ry="1.25"/><ellipse cx="525.4" cy="89.6" rx="0.95" ry="1.25"/><ellipse cx="527.1" cy="94.9" rx="0.95" ry="1.25"/><ellipse cx="524.5" cy="96.0" rx="0.95" ry="1.25"/><ellipse cx="529.2" cy="97.0" rx="0.95" ry="1.25"/><ellipse cx="516.4" cy="100.2" rx="0.95" ry="1.25"/><ellipse cx="521.7" cy="102.4" rx="0.95" ry="1.25"/><ellipse cx="526.6" cy="99.8" rx="0.95" ry="1.25"/><ellipse cx="529.6" cy="104.5" rx="0.95" ry="1.25"/><ellipse cx="520.2" cy="107.1" rx="0.95" ry="1.25"/><ellipse cx="518.1" cy="109.8" rx="0.95" ry="1.25"/><ellipse cx="526.0" cy="112.6" rx="0.95" ry="1.25"/><ellipse cx="528.1" cy="111.3" rx="0.95" ry="1.25"/><ellipse cx="548.4" cy="66.8" rx="0.95" ry="1.25"/><ellipse cx="422.0" cy="58.6" rx="0.95" ry="1.25"/><ellipse cx="417.2" cy="64.4" rx="0.95" ry="1.25"/><ellipse cx="421.0" cy="66.4" rx="0.95" ry="1.25"/><ellipse cx="421.0" cy="67.8" rx="0.95" ry="1.25"/><ellipse cx="423.2" cy="73.2" rx="0.95" ry="1.25"/><ellipse cx="418.7" cy="97.4" rx="0.95" ry="1.25"/><ellipse cx="417.6" cy="106.2" rx="0.95" ry="1.25"/><ellipse cx="423.4" cy="109.5" rx="0.95" ry="1.25"/><ellipse cx="457.7" cy="61.9" rx="0.95" ry="1.25"/><ellipse cx="448.9" cy="65.7" rx="0.95" ry="1.25"/><ellipse cx="454.9" cy="68.9" rx="0.95" ry="1.25"/><ellipse cx="452.7" cy="72.0" rx="0.95" ry="1.25"/><ellipse cx="454.3" cy="75.5" rx="0.95" ry="1.25"/><ellipse cx="450.5" cy="82.7" rx="0.95" ry="1.25"/><ellipse cx="456.6" cy="85.5" rx="0.95" ry="1.25"/><ellipse cx="460.2" cy="84.6" rx="0.95" ry="1.25"/><ellipse cx="451.8" cy="90.1" rx="0.95" ry="1.25"/><ellipse cx="457.1" cy="93.5" rx="0.95" ry="1.25"/><ellipse cx="452.6" cy="97.5" rx="0.95" ry="1.25"/><ellipse cx="453.8" cy="95.7" rx="0.95" ry="1.25"/><ellipse cx="456.1" cy="99.4" rx="0.95" ry="1.25"/><ellipse cx="461.5" cy="102.9" rx="0.95" ry="1.25"/><ellipse cx="460.0" cy="108.6" rx="0.95" ry="1.25"/><ellipse cx="484.4" cy="51.1" rx="0.95" ry="1.25"/><ellipse cx="493.0" cy="52.1" rx="0.95" ry="1.25"/><ellipse cx="494.3" cy="56.0" rx="0.95" ry="1.25"/><ellipse cx="484.7" cy="55.6" rx="0.95" ry="1.25"/><ellipse cx="485.9" cy="57.1" rx="0.95" ry="1.25"/><ellipse cx="489.3" cy="62.4" rx="0.95" ry="1.25"/><ellipse cx="487.7" cy="63.5" rx="0.95" ry="1.25"/><ellipse cx="487.1" cy="65.9" rx="0.95" ry="1.25"/><ellipse cx="494.2" cy="64.5" rx="0.95" ry="1.25"/><ellipse cx="482.9" cy="68.9" rx="0.95" ry="1.25"/><ellipse cx="490.6" cy="71.8" rx="0.95" ry="1.25"/><ellipse cx="485.9" cy="77.1" rx="0.95" ry="1.25"/><ellipse cx="484.4" cy="79.9" rx="0.95" ry="1.25"/><ellipse cx="488.5" cy="80.3" rx="0.95" ry="1.25"/><ellipse cx="486.6" cy="81.3" rx="0.95" ry="1.25"/><ellipse cx="493.2" cy="80.6" rx="0.95" ry="1.25"/><ellipse cx="489.0" cy="87.7" rx="0.95" ry="1.25"/><ellipse cx="486.4" cy="93.1" rx="0.95" ry="1.25"/><ellipse cx="481.6" cy="98.8" rx="0.95" ry="1.25"/><ellipse cx="494.9" cy="103.8" rx="0.95" ry="1.25"/><ellipse cx="493.4" cy="111.3" rx="0.95" ry="1.25"/><ellipse cx="494.4" cy="108.4" rx="0.95" ry="1.25"/><ellipse cx="521.4" cy="50.4" rx="0.95" ry="1.25"/><ellipse cx="530.0" cy="65.0" rx="0.95" ry="1.25"/><ellipse cx="526.1" cy="68.4" rx="0.95" ry="1.25"/><ellipse cx="527.6" cy="71.1" rx="0.95" ry="1.25"/><ellipse cx="518.0" cy="76.9" rx="0.95" ry="1.25"/><ellipse cx="520.7" cy="78.3" rx="0.95" ry="1.25"/><ellipse cx="527.8" cy="96.3" rx="0.95" ry="1.25"/><ellipse cx="523.7" cy="97.1" rx="0.95" ry="1.25"/><ellipse cx="530.2" cy="98.3" rx="0.95" ry="1.25"/><ellipse cx="520.6" cy="103.8" rx="0.95" ry="1.25"/><ellipse cx="530.3" cy="105.5" rx="0.95" ry="1.25"/><ellipse cx="519.2" cy="111.3" rx="0.95" ry="1.25"/></g>
<path d="M81.20 0.35L81.20 7.35M81.20 114.50L81.20 128.50M81.20 235.75L81.20 249.75M81.20 356.50L81.20 363.50M138.10 0.35L138.10 4.35M138.10 117.50L138.10 125.50M138.10 238.75L138.10 246.75M138.10 359.50L138.10 363.50M195.00 0.35L195.00 7.35M195.00 114.50L195.00 128.50M195.00 235.75L195.00 249.75M195.00 356.50L195.00 363.50M251.90 0.35L251.90 4.35M251.90 117.50L251.90 125.50M251.90 238.75L251.90 246.75M251.90 359.50L251.90 363.50M308.80 0.35L308.80 7.35M308.80 114.50L308.80 128.50M308.80 235.75L308.80 249.75M308.80 356.50L308.80 363.50M365.70 0.35L365.70 4.35M365.70 117.50L365.70 125.50M365.70 238.75L365.70 246.75M365.70 359.50L365.70 363.50M422.60 0.35L422.60 7.35M422.60 114.50L422.60 128.50M422.60 235.75L422.60 249.75M422.60 356.50L422.60 363.50M479.50 0.35L479.50 4.35M479.50 117.50L479.50 125.50M479.50 238.75L479.50 246.75M479.50 359.50L479.50 363.50M536.40 0.35L536.40 7.35M536.40 114.50L536.40 128.50M536.40 235.75L536.40 249.75M536.40 356.50L536.40 363.50M71.50 121.14L75.10 121.14M556.90 121.14L560.50 121.14M71.50 113.12L75.10 113.12M556.90 113.12L560.50 113.12M71.50 105.10L78.50 105.10M553.50 105.10L560.50 105.10M71.50 97.08L75.10 97.08M556.90 97.08L560.50 97.08M71.50 89.06L75.10 89.06M556.90 89.06L560.50 89.06M71.50 81.04L75.10 81.04M556.90 81.04L560.50 81.04M71.50 73.02L75.10 73.02M556.90 73.02L560.50 73.02M71.50 65.00L78.50 65.00M553.50 65.00L560.50 65.00M71.50 56.98L75.10 56.98M556.90 56.98L560.50 56.98M71.50 48.96L75.10 48.96M556.90 48.96L560.50 48.96M71.50 40.94L75.10 40.94M556.90 40.94L560.50 40.94M71.50 32.92L75.10 32.92M556.90 32.92L560.50 32.92M71.50 24.90L78.50 24.90M553.50 24.90L560.50 24.90M71.50 16.88L75.10 16.88M556.90 16.88L560.50 16.88M71.50 8.86L75.10 8.86M556.90 8.86L560.50 8.86M71.50 0.84L75.10 0.84M556.90 0.84L560.50 0.84M71.50 239.15L75.10 239.15M556.90 239.15L560.50 239.15M71.50 232.25L75.10 232.25M556.90 232.25L560.50 232.25M71.50 225.35L75.10 225.35M556.90 225.35L560.50 225.35M71.50 218.45L75.10 218.45M556.90 218.45L560.50 218.45M71.50 211.55L78.50 211.55M553.50 211.55L560.50 211.55M71.50 204.65L75.10 204.65M556.90 204.65L560.50 204.65M71.50 197.75L75.10 197.75M556.90 197.75L560.50 197.75M71.50 190.85L75.10 190.85M556.90 190.85L560.50 190.85M71.50 183.95L75.10 183.95M556.90 183.95L560.50 183.95M71.50 177.05L78.50 177.05M553.50 177.05L560.50 177.05M71.50 170.15L75.10 170.15M556.90 170.15L560.50 170.15M71.50 163.25L75.10 163.25M556.90 163.25L560.50 163.25M71.50 156.35L75.10 156.35M556.90 156.35L560.50 156.35M71.50 149.45L75.10 149.45M556.90 149.45L560.50 149.45M71.50 142.55L78.50 142.55M553.50 142.55L560.50 142.55M71.50 135.65L75.10 135.65M556.90 135.65L560.50 135.65M71.50 128.75L75.10 128.75M556.90 128.75L560.50 128.75M71.50 121.85L75.10 121.85M556.90 121.85L560.50 121.85M71.50 350.50L78.50 350.50M553.50 350.50L560.50 350.50M71.50 328.00L75.10 328.00M556.90 328.00L560.50 328.00M71.50 305.50L78.50 305.50M553.50 305.50L560.50 305.50M71.50 283.00L75.10 283.00M556.90 283.00L560.50 283.00M71.50 260.50L78.50 260.50M553.50 260.50L560.50 260.50M71.50 121.50L560.50 121.50M71.50 242.75L560.50 242.75" stroke="#000" stroke-width="1.3" fill="none"/>
<path d="M156.65 0.35V363.5M409.6 0.35V363.5" stroke="#000" stroke-width="1.4" fill="none"/>
<rect x="71.5" y="0.35" width="489.00" height="363.15" stroke="#000" stroke-width="1.3" fill="none"/>
<g font-size="16.2" fill="#000" stroke="#000" stroke-width="0.3">
<text x="81.20" y="381.2" text-anchor="middle">0</text>
<text x="193.80" y="381.2" text-anchor="middle">2×10<tspan font-size="9.2" dy="-4.6">4</tspan></text>
<text x="307.60" y="381.2" text-anchor="middle">4×10<tspan font-size="9.2" dy="-4.6">4</tspan></text>
<text x="421.40" y="381.2" text-anchor="middle">6×10<tspan font-size="9.2" dy="-4.6">4</tspan></text>
<text x="535.20" y="381.2" text-anchor="middle">8×10<tspan font-size="9.2" dy="-4.6">4</tspan></text>
<text x="316.4" y="400.6" text-anchor="middle">Time (s)</text>
<text transform="translate(61.9 105.10) rotate(-90)" text-anchor="middle" font-size="16.1">2500</text>
<text transform="translate(61.9 65.00) rotate(-90)" text-anchor="middle" font-size="16.1">3000</text>
<text transform="translate(61.9 24.90) rotate(-90)" text-anchor="middle" font-size="16.1">3500</text>
<text transform="translate(61.9 211.55) rotate(-90)" text-anchor="middle" font-size="16.1">0.5</text>
<text transform="translate(61.9 177.05) rotate(-90)" text-anchor="middle" font-size="16.1">0.6</text>
<text transform="translate(61.9 142.55) rotate(-90)" text-anchor="middle" font-size="16.1">0.7</text>
<text transform="translate(61.9 350.50) rotate(-90)" text-anchor="middle" font-size="16.1">1.8</text>
<text transform="translate(61.9 305.50) rotate(-90)" text-anchor="middle" font-size="16.1">2</text>
<text transform="translate(61.9 260.50) rotate(-90)" text-anchor="middle" font-size="16.1">2.2</text>
<text transform="translate(11.6 61.15) rotate(-90)" text-anchor="middle">Count Rate</text>
<text transform="translate(32.2 64.65) rotate(-90)" text-anchor="middle">(counts/s)</text>
<text transform="translate(12.0 181.50) rotate(-90)" text-anchor="middle">HR2</text>
<text transform="translate(32.2 184.85) rotate(-90)" text-anchor="middle">13−60/3−5</text>
<text transform="translate(12.0 303.50) rotate(-90)" text-anchor="middle">HR1</text>
<text transform="translate(32.2 306.45) rotate(-90)" text-anchor="middle">5−13/3−5</text>
<text transform="scale(1 1.6962)" x="77.39" y="13.559" font-size="12.5" fill="#000" stroke="none">−−</text>
<text x="93.02" y="20.2" font-family="Liberation Serif" font-style="italic" font-size="12.8" stroke-width="0.2">χ</text>
<text x="102.57" y="20.8" font-size="12.5">class</text>
<text transform="scale(1 1.6962)" x="131.39" y="13.559" font-size="12.5" fill="#000" stroke="none">−−−</text>
<text transform="scale(1 1.6962)" x="171.09" y="13.559" font-size="12.5" fill="#f00" stroke="none">−−−−−−−−</text>
<text x="230.15" y="20.8" font-size="12.5" fill="#f00" stroke="#f00">Intermediate state</text>
<text transform="scale(1 1.6962)" x="331.39" y="13.559" font-size="12.5" fill="#f00" stroke="none">−−−−−−−</text>
<text transform="scale(1 1.6962)" x="429.29" y="13.559" font-size="12.5" fill="#00f" stroke="none">−−</text>
<text x="443.98" y="20.8" font-size="12.5" fill="#00f" stroke="#00f">Heartbeat state</text>
<text transform="scale(1 1.6962)" x="529.59" y="13.559" font-size="12.5" fill="#00f" stroke="none">−−</text>
</g>
</svg>
</body></html>
